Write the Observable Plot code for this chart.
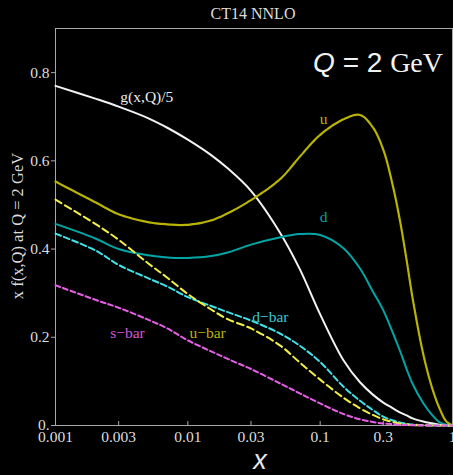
<!DOCTYPE html>
<html><head><meta charset="utf-8">
<script src="https://cdn.jsdelivr.net/npm/d3@7"></script>
<script src="https://cdn.jsdelivr.net/npm/@observablehq/plot@0.6"></script>
<style>
html,body{margin:0;padding:0;background:#000;overflow:hidden;}
#chart svg g[aria-label="x-axis tick label"], #chart svg g[aria-label="y-axis tick label"]{font-size:15.5px;font-family:'Liberation Serif',serif;}
#chart svg g[aria-label="text"]{font-size:15.5px;font-family:'Liberation Serif',serif;}
</style></head><body><div id="chart"></div>
<script>
// ---- data ----
const xs        = [0.001,0.002,0.003,0.005,0.007,0.01,0.015,0.02,0.03,0.05,0.07,0.1,0.15,0.2,0.25,0.3,0.35,0.4,0.45,0.5,0.6,0.7,0.8,0.9,1];
const gluonOver5= [0.770,0.741,0.723,0.697,0.675,0.648,0.613,0.583,0.532,0.436,0.355,0.252,0.148,0.098,0.070,0.052,0.040,0.030,0.023,0.016,0.009,0.005,0.002,0.0005,0];
const uQuark    = [0.553,0.506,0.479,0.461,0.456,0.455,0.465,0.481,0.511,0.559,0.609,0.659,0.694,0.704,0.676,0.625,0.550,0.466,0.375,0.288,0.163,0.086,0.038,0.009,0];
const dQuark    = [0.457,0.424,0.400,0.386,0.381,0.380,0.384,0.392,0.410,0.427,0.434,0.432,0.402,0.356,0.304,0.261,0.214,0.170,0.128,0.094,0.051,0.024,0.007,0.002,0];
const dBar      = [0.435,0.397,0.364,0.334,0.315,0.291,0.271,0.257,0.238,0.208,0.181,0.144,0.088,0.056,0.035,0.020,0.012,0.007,0.004,0.002,0.001,0.0003,0.0001,0,0];
const uBar      = [0.512,0.457,0.421,0.368,0.335,0.298,0.263,0.241,0.220,0.181,0.143,0.104,0.063,0.039,0.024,0.014,0.008,0.004,0.002,0.001,0.0004,0.0001,0,0,0];
const sBar      = [0.318,0.285,0.267,0.240,0.220,0.193,0.168,0.151,0.128,0.095,0.073,0.050,0.026,0.014,0.008,0.0045,0.003,0.0015,0.001,0.0005,0.0002,0.0001,0,0,0];

const seriesNames  = ["g(x,Q)/5","u","d","d−bar","u−bar","s−bar"];
const seriesValues = [gluonOver5,uQuark,dQuark,dBar,uBar,sBar];

const labelTexts = ["g(x,Q)/5","u","d","d−bar","u−bar","s−bar"];
const labelX     = [0.0049,0.106,0.106,0.042,0.0141,0.0035];
const labelY     = [0.744,0.694,0.472,0.245,0.209,0.209];

const tickValuesX = [0.001,0.003,0.01,0.03,0.1,0.3,1];
const tickLabelsX = ["0.001","0.003","0.01","0.03","0.1","0.3","1"];
const tickValuesY = [0,0.2,0.4,0.6,0.8];
const tickLabelsY = ["0.","0.2","0.4","0.6","0.8"];

const titleText = "CT14 NNLO";
const yTitle = "x f(x,Q) at Q = 2 GeV";
const xTitle = "x";

// ---- styles (kept in code) ----
const lineStyle = {
  "g(x,Q)/5": {stroke:"#f2f2f2", dash:null, w:2},
  "u":        {stroke:"#b9b400", dash:"4,1", w:2.2},
  "d":        {stroke:"#00a6a6", dash:null, w:2},
  "d−bar":    {stroke:"#40e2ea", dash:"6,3", w:2},
  "u−bar":    {stroke:"#f2f044", dash:"7,4", w:2},
  "s−bar":    {stroke:"#e55ee5", dash:"5,3", w:2}
};
const labelColor = {
  "g(x,Q)/5":"#eeeeee","u":"#b9b400","d":"#00a2a2","d−bar":"#35c9d6","u−bar":"#bdb500","s−bar":"#d455d4"
};

const rows = [];
seriesNames.forEach((name, k) => xs.forEach((x, i) => rows.push({series: name, x, y: seriesValues[k][i]})));
const labels = labelTexts.map((t, i) => ({text: t, x: labelX[i], y: labelY[i]}));

const lineMarks = seriesNames.map(name => Plot.line(rows.filter(r => r.series === name), {
  x: "x", y: "y", curve: "catmull-rom",
  stroke: lineStyle[name].stroke, strokeWidth: lineStyle[name].w,
  strokeDasharray: lineStyle[name].dash
}));

const chart = Plot.plot({
  width: 453, height: 475,
  marginLeft: 55, marginRight: 1, marginTop: 28, marginBottom: 50,
  style: {background: "#000", color: "#dddddd", fontFamily: "'Liberation Serif', 'DejaVu Serif', serif"},
  x: {type: "log", domain: [0.001, 1]},
  y: {domain: [0, 0.9]},
  marks: [
    Plot.frame({stroke: "#a8a8a8", strokeWidth: 1}),
    Plot.axisX({ticks: tickValuesX, tickFormat: d => tickLabelsX[tickValuesX.indexOf(d)], tickSize: 0, tickPadding: 5, label: null}),
    Plot.ruleX(tickValuesX.slice(1, -1), {y1: 0, y2: 0.009, stroke: "#a8a8a8"}),
    Plot.axisY({ticks: tickValuesY, tickFormat: d => tickLabelsY[tickValuesY.indexOf(d)], tickSize: 4, tickPadding: 2, label: null, stroke: "#a8a8a8"}),
    ...lineMarks,
    Plot.text(labels, {x: "x", y: "y", text: "text", fill: d => labelColor[d.text]})
  ]
});

const svg = d3.select(chart);
svg.append("text").attr("x", 253).attr("y", 19).attr("text-anchor", "middle")
  .attr("fill", "#dddddd").style("font-family", "'Liberation Serif', serif").style("font-size", "16px").text(titleText);
svg.append("text").attr("transform", "translate(23,226) rotate(-90)").attr("text-anchor", "middle")
  .attr("fill", "#dddddd").style("font-family", "'Liberation Serif', serif").style("font-size", "16.5px").text(yTitle);
svg.append("text").attr("x", 260).attr("y", 469).attr("text-anchor", "middle")
  .attr("fill", "#e8e8e8").style("font-family", "'Liberation Sans', sans-serif").style("font-style", "italic").style("font-size", "27px").text(xTitle);
const q = svg.append("text").attr("x", 443).attr("y", 72).attr("text-anchor", "end").attr("fill", "#f2f2f2").style("font-size", "28px");
q.append("tspan").style("font-family", "'Liberation Sans', sans-serif").style("font-style", "italic").text("Q");
q.append("tspan").style("font-family", "'Liberation Sans', sans-serif").text(" = 2 ");
q.append("tspan").style("font-family", "'Liberation Serif', serif").text("GeV");

document.getElementById("chart").appendChild(chart);
</script></body></html>
